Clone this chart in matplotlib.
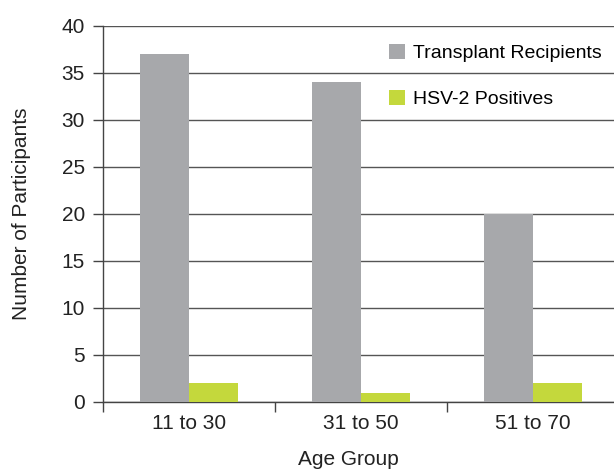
import numpy as np
import matplotlib.pyplot as plt

plt.rcParams['font.family'] = ['Liberation Sans', 'DejaVu Sans']

age_groups = ['11 to 30', '31 to 50', '51 to 70']
recipients = [37, 34, 20]
hsv2_pos = [2, 1, 2]

gray = '#a7a8ab'
green = '#c4d83c'
fs = 15

fig = plt.figure(figsize=(6.14, 4.69), dpi=100)
ax = fig.add_axes([0.1678, 0.1429, 0.8404, 0.8017])

x = np.arange(len(age_groups))
w = 0.287
ax.bar(x - w / 2, recipients, w, color=gray, label='Transplant Recipients', zorder=3)
ax.bar(x + w / 2, hsv2_pos, w, color=green, label='HSV-2 Positives', zorder=3)

ax.set_xlim(-0.5, 2.5)
ax.set_ylim(0, 40)
ax.set_yticks(range(0, 41, 5))
ax.yaxis.grid(True, color='#555555', linewidth=1.0, zorder=0)

# ticks at group boundaries, labels at group centres
ax.set_xticks(np.arange(-0.5, 3, 1))
ax.set_xticklabels([])
ax.set_xticks(x, minor=True)
ax.set_xticklabels(age_groups, minor=True)
ax.tick_params(which='both', labelsize=fs, labelcolor='#222222')
ax.tick_params(axis='x', which='minor', length=0, pad=9)
ax.tick_params(axis='x', which='major', length=7, width=1, color='#444444', direction='out')
ax.tick_params(axis='y', length=7, width=1, color='#444444', direction='out', pad=6)

for s in ['top', 'right']:
    ax.spines[s].set_visible(False)
for s in ['left', 'bottom']:
    ax.spines[s].set_color('#444444')
    ax.spines[s].set_linewidth(1.0)

ax.set_ylabel('Number of Participants', fontsize=fs, color='#222222')
ax.set_xlabel('Age Group', fontsize=fs, color='#222222')
ax.yaxis.set_label_coords(-0.14, 0.5)
ax.xaxis.set_label_coords(0.475, -0.127)

ax.legend(loc='upper left', bbox_to_anchor=(0.539, 0.972), frameon=False,
          fontsize=14, handlelength=0.85, handleheight=0.75, handletextpad=0.4,
          labelspacing=1.45, borderaxespad=0)

fig.savefig('out.png', dpi=100)
